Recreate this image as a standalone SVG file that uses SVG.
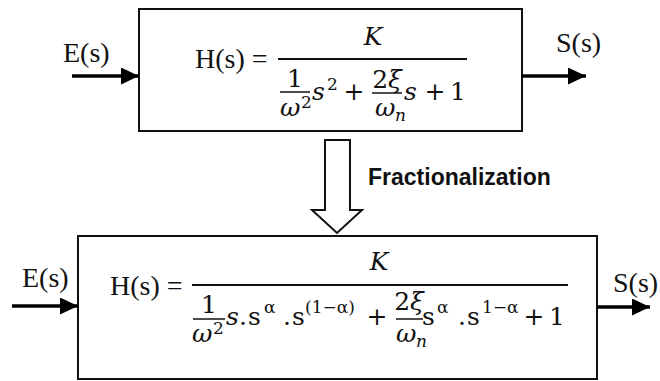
<svg xmlns="http://www.w3.org/2000/svg" width="660" height="381" viewBox="0 0 660 381">
<defs>
<style>
.box{fill:#fff;stroke:#111;stroke-width:2}
.lbl{font-family:"Liberation Serif",serif;font-size:28px;fill:#111}
.m{font-family:"DejaVu Serif",serif;font-size:25px;fill:#111}
.i{font-style:italic}
.sup{font-family:"DejaVu Serif",serif;font-size:17px;fill:#111}
.bar{stroke:#111;stroke-width:2}
.sbar{stroke:#111;stroke-width:1.5}
.wire{stroke:#000;stroke-width:3.5;fill:none}
.fr{font-family:"Liberation Sans",Arial,sans-serif;font-weight:bold;font-size:23px;fill:#111}
</style>
<marker id="ah" markerUnits="userSpaceOnUse" markerWidth="19" markerHeight="18" refX="18" refY="8.5" orient="auto">
<path d="M0,0 L18,8.5 L0,17 z" fill="#000"/>
</marker>
</defs>

<g id="h-classic">
<rect class="box" x="139" y="9" width="383" height="122"/>
<text class="lbl" x="195" y="68">H(s) =</text>
<line class="bar" x1="278" y1="59" x2="467" y2="59"/>
<text class="m i" x="373" y="45" text-anchor="middle" font-size="21">K</text>
<text class="m" x="295" y="87" text-anchor="middle">1</text>
<line class="sbar" x1="280" y1="92" x2="310" y2="92"/>
<text class="m i" x="280" y="116">ω</text>
<text class="sup" x="301" y="108">2</text>
<text class="m i" x="312" y="100">s</text>
<text class="sup" x="327" y="90">2</text>
<text class="m" x="354" y="100" text-anchor="middle">+</text>
<text class="m" x="387" y="88" text-anchor="middle">2<tspan class="i">ξ</tspan></text>
<line class="sbar" x1="372" y1="93" x2="402" y2="93"/>
<text class="m i" x="375" y="116">ω</text>
<text class="sup i" x="395" y="121">n</text>
<text class="m i" x="404" y="100">s</text>
<text class="m" x="435" y="100" text-anchor="middle">+</text>
<text class="m" x="458" y="100" text-anchor="middle">1</text>
</g>

<g id="h-fractional">
<rect class="box" x="78" y="236" width="519" height="143"/>
<text class="lbl" x="110" y="295">H(s) =</text>
<line class="bar" x1="192" y1="285" x2="568" y2="285"/>
<text class="m i" x="379" y="270" text-anchor="middle" font-size="21">K</text>
<text class="m" x="209" y="313" text-anchor="middle">1</text>
<line class="sbar" x1="193" y1="319" x2="225" y2="319"/>
<text class="m i" x="192" y="342">ω</text>
<text class="sup" x="213" y="334">2</text>
<text class="m i" x="226" y="325">s</text>
<text class="m" x="239" y="325">.</text>
<text class="m" x="248" y="325">s</text>
<text class="sup" x="264" y="313">α</text>
<text class="m" x="283" y="325">.</text>
<text class="m" x="292" y="325">s</text>
<text class="sup" x="305" y="313">(1−α)</text>
<text class="m" x="377" y="325" text-anchor="middle">+</text>
<text class="m" x="409" y="310" text-anchor="middle">2<tspan class="i">ξ</tspan></text>
<line class="sbar" x1="396" y1="319" x2="423" y2="319"/>
<text class="m i" x="396" y="342">ω</text>
<text class="sup i" x="416" y="347">n</text>
<text class="m" x="422" y="325">s</text>
<text class="sup" x="437" y="313">α</text>
<text class="m" x="458" y="325">.</text>
<text class="m" x="467" y="325">s</text>
<text class="sup" x="482" y="313">1−α</text>
<text class="m" x="534" y="325" text-anchor="middle">+</text>
<text class="m" x="557" y="325" text-anchor="middle">1</text>
</g>

<g id="connectors">
<line class="wire" x1="72" y1="76" x2="139" y2="76" marker-end="url(#ah)"/>
<text class="lbl" x="63" y="62">E(s)</text>
<line class="wire" x1="522" y1="76" x2="586" y2="76" marker-end="url(#ah)"/>
<text class="lbl" x="556" y="52">S(s)</text>
<line class="wire" x1="12" y1="306" x2="78" y2="306" marker-end="url(#ah)"/>
<text class="lbl" x="22" y="287">E(s)</text>
<line class="wire" x1="597" y1="307" x2="650" y2="307" marker-end="url(#ah)"/>
<text class="lbl" x="613" y="292">S(s)</text>
<polygon points="325,140 350,140 350,210 362,210 337,233 312,210 325,210" fill="#fff" stroke="#111" stroke-width="2"/>
<text class="fr" x="368" y="185">Fractionalization</text>
</g>
</svg>
